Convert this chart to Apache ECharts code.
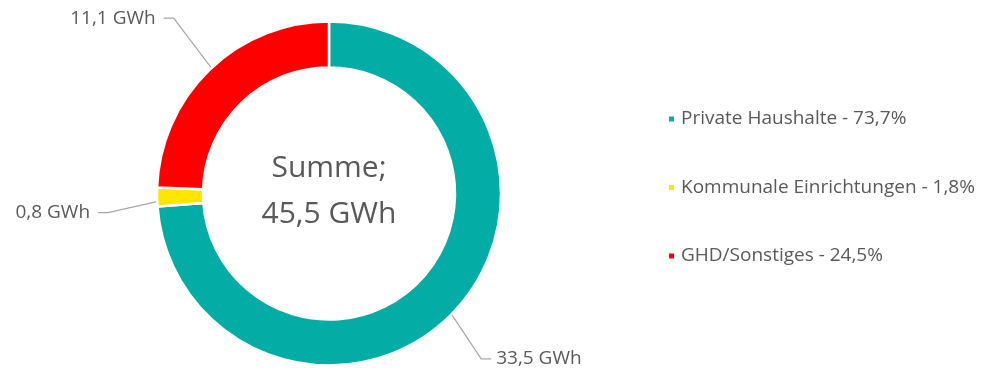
<!DOCTYPE html>
<html>
<head>
<meta charset="utf-8">
<script src="https://cdn.jsdelivr.net/npm/echarts@6/dist/echarts.min.js"></script>
<style>
html,body{margin:0;padding:0;background:#fff;}
#chart{width:981px;height:371px;}
</style>
</head>
<body>
<div id="chart"></div>
<script>
// ---- data ----
const categories = ['Private Haushalte', 'Kommunale Einrichtungen', 'GHD/Sonstiges'];
const values = [33.5, 0.8, 11.1];            // GWh
const shareLabels = ['73,7%', '1,8%', '24,5%'];
const totalLabel = ['Summe;', '45,5 GWh'];
const colors = ['#03ADA6', '#FFE500', '#FF0000'];

// ---- layout / style tuning ----
const FONT = 'Open Sans';
const TXT = '#595959';
const cx = 329, cy = 193.5;
const labelShift = [[4, 28], [-22, 15], [-18, -30]];
const lineLen2 = [10, 10, 10];
const lineInset = 22;

const fmt = v => v.toFixed(1).replace('.', ',') + ' GWh';

const chart = echarts.init(document.getElementById('chart'), null, {renderer: 'canvas'});
chart.setOption({
  animation: false,
  backgroundColor: '#fff',
  legend: {
    orient: 'vertical',
    left: 662,
    top: 103,
    icon: 'rect',
    itemWidth: 7,
    itemHeight: 7,
    itemGap: 46.5,
    textStyle: {fontFamily: FONT, fontSize: 19, color: TXT, lineHeight: 22, padding: [0, 0, 0, 1]},
    formatter: name => name + ' - ' + shareLabels[categories.indexOf(name)],
    data: categories
  },
  graphic: [{
    type: 'text',
    x: cx, y: cy - 2,
    style: {
      text: totalLabel.join('\n'),
      align: 'center', verticalAlign: 'middle',
      fontFamily: FONT, fontSize: 30, lineHeight: 46, fill: TXT
    }
  }],
  series: [{
    type: 'pie',
    center: [cx, cy],
    radius: [126, 172],
    startAngle: 90,
    clockwise: true,
    avoidLabelOverlap: false,
    itemStyle: {borderColor: '#fff', borderWidth: 2.5},
    label: {
      show: true,
      position: 'outside',
      fontFamily: FONT, fontSize: 19, color: TXT,
      formatter: p => fmt(p.value)
    },
    labelLine: {show: true, length: 30, length2: 10, lineStyle: {color: '#A6A6A6', width: 1.2}},
    emphasis: {disabled: true},
    labelLayout: function (p) {
      const i = p.dataIndex;
      const pts = p.labelLinePoints;
      const [dx, dy] = labelShift[i];
      const r = p.labelRect;
      const right = p.align === 'right';
      const ax = right ? r.x + r.width : r.x;
      const ay = r.y + r.height / 2;
      const out = {x: ax + dx, y: ay + dy, align: p.align, verticalAlign: 'middle'};
      if (pts && pts.length === 3) {
        const ux = pts[1][0] - pts[0][0], uy = pts[1][1] - pts[0][1];
        const ul = Math.sqrt(ux * ux + uy * uy) || 1;
        out.labelLinePoints = [
          [pts[0][0] - ux / ul * lineInset, pts[0][1] - uy / ul * lineInset],
          [pts[1][0] + dx + (i === 0 ? 0 : 3), pts[1][1] + dy],
          [pts[2][0] + dx + (i === 0 ? 0 : 3), pts[2][1] + dy]
        ];
      }
      return out;
    },
    data: categories.map((c, i) => ({
      name: c, value: values[i],
      itemStyle: {color: colors[i]},
      labelLine: {length: 30, length2: lineLen2[i]}
    }))
  }]
});
</script>
</body>
</html>
